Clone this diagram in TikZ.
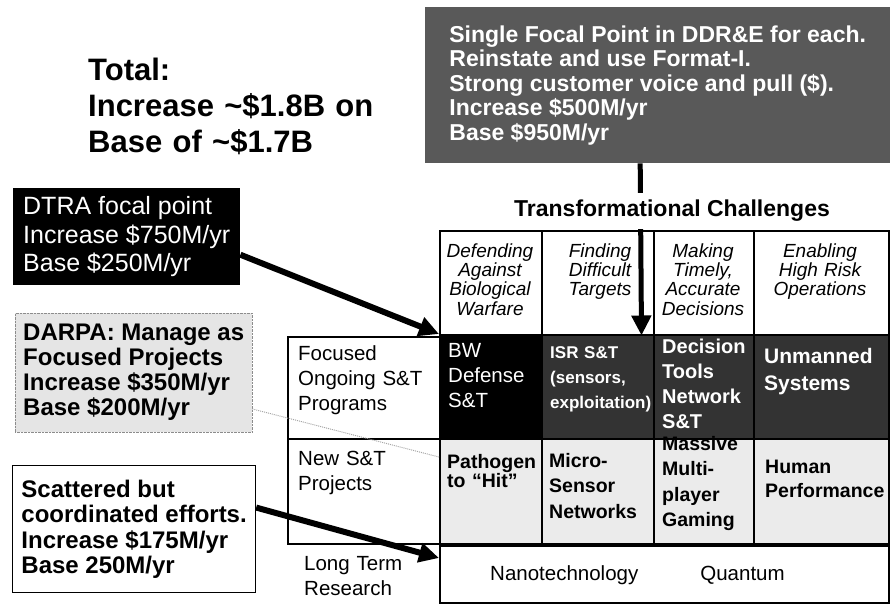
\documentclass[tikz,border=0pt]{standalone}
\usepackage{fontspec}
\setmainfont{Liberation Sans}
\usetikzlibrary{arrows.meta}

\begin{document}
\begin{tikzpicture}[x=1pt,y=-1pt,>={Triangle[length=20pt,width=19pt]},
    cell/.style={draw=black,line width=1.5pt,anchor=north west,inner sep=0pt},
    note/.style={anchor=north west,inner sep=0pt,align=left},
    txt/.style={anchor=base west,inner sep=0pt,text width=130pt,align=left},
    hdtxt/.style={anchor=base,inner sep=0pt,text width=100pt,align=center,
        font=\itshape\fontsize{19}{19.5}\selectfont},
    rowone/.style={txt,text=white,font=\bfseries\fontsize{20}{25}\selectfont},
    rowtwo/.style={txt,font=\bfseries\fontsize{19.5}{25.5}\selectfont},
    plain/.style={txt,font=\fontsize{20.5}{25}\selectfont}]
    \useasboundingbox (0,0) rectangle (895,607);

    \node[txt,text width=330pt,font=\bfseries\fontsize{31}{36}\selectfont] (total) at (88,81)
        {Total:\\Increase \textasciitilde\$1.8B on\\Base of \textasciitilde\$1.7B};

    % who pays
    \node[note,fill=black,text=white,minimum width=227pt,minimum height=97pt,
        font=\fontsize{25}{28.5}\selectfont] (dtra) at (13,188)
        {DTRA focal point\\Increase \$750M/yr\\Base \$250M/yr};
    \node[note,fill=black!10,draw=black!45,densely dotted,minimum width=237pt,minimum height=119pt,
        font=\bfseries\fontsize{24}{25}\selectfont] (darpa) at (15,313)
        {DARPA: Manage as\\Focused Projects\\Increase \$350M/yr\\Base \$200M/yr};
    \node[note,draw=black,line width=1.2pt,minimum width=243pt,minimum height=127pt,
        font=\bfseries\fontsize{24}{25.5}\selectfont] (scat) at (12,465)
        {Scattered but\\coordinated efforts.\\Increase \$175M/yr\\Base 250M/yr};
    \node[note,fill=black!65,text=white,minimum width=465pt,minimum height=156pt,
        font=\bfseries\fontsize{23}{24.5}\selectfont] (ddre) at (425,7)
        {Single Focal Point in DDR\&E for each.\\Reinstate and use Format-I.\\Strong customer voice and pull (\$).\\Increase \$500M/yr\\Base \$950M/yr};

    % header row
    \node[cell,minimum width=102pt,minimum height=104pt] (h1) at (439,230) {};
    \node[cell,minimum width=112pt,minimum height=104pt] (h2) at (541,230) {};
    \node[cell,minimum width=100pt,minimum height=104pt] (h3) at (653,230) {};
    \node[cell,minimum width=135pt,minimum height=104pt] (h4) at (753,230) {};
    \node[hdtxt] (h1t) at (490,257) {Defending\\Against\\Biological\\Warfare};
    \node[hdtxt] (h2t) at (600,257) {Finding\\Difficult\\Targets};
    \node[hdtxt] (h3t) at (703,257) {Making\\Timely,\\Accurate\\Decisions};
    \node[hdtxt] (h4t) at (820,257) {Enabling\\High Risk\\Operations};

    % focused ongoing programs
    \node[cell,fill=black,minimum width=102pt,minimum height=104pt] (bw) at (439,334) {};
    \node[cell,fill=black!80,minimum width=112pt,minimum height=104pt] (isr) at (541,334) {};
    \node[cell,fill=black!80,minimum width=100pt,minimum height=104pt] (dec) at (653,334) {};
    \node[cell,fill=black!80,minimum width=135pt,minimum height=104pt] (unm) at (753,334) {};
    \node[rowone,font=\fontsize{20.5}{25}\selectfont] (bwt) at (448,357) {BW\\Defense\\S\&T};
    \node[rowone,font=\bfseries\fontsize{17}{25}\selectfont] (isrt) at (550,358) {ISR S\&T\\(sensors,\\exploitation)};
    \node[rowone] (dect) at (662,353) {Decision\\Tools\\Network\\S\&T};
    \node[rowone,font=\bfseries\fontsize{21}{27}\selectfont] (unmt) at (764,363) {Unmanned\\Systems};

    % new projects
    \node[cell,fill=black!8,minimum width=102pt,minimum height=105pt] (pat) at (439,438) {};
    \node[cell,fill=black!8,minimum width=112pt,minimum height=105pt] (mic) at (541,438) {};
    \node[cell,fill=black!8,minimum width=100pt,minimum height=105pt] (mas) at (653,438) {};
    \node[cell,fill=black!8,minimum width=135pt,minimum height=105pt] (hum) at (753,438) {};
    \node[rowtwo,font=\bfseries\fontsize{19.5}{19.5}\selectfont] (patt) at (447,468) {Pathogen\\to “Hit”};
    \node[rowtwo] (mict) at (549,467) {Micro-\\Sensor\\Networks};
    \node[rowtwo] (mast) at (662,450) {Massive\\Multi-\\player\\Gaming};
    \node[rowtwo,font=\bfseries\fontsize{19.5}{24}\selectfont] (humt) at (765,473) {Human\\Performance};

    % long term research
    \node[cell,minimum width=449pt,minimum height=57pt] (ltr) at (439,545) {};
    \node[plain,text width=400pt] (ltrt) at (490,580) {Nanotechnology\hspace{62pt}Quantum};

    % row labels
    \node[cell,minimum width=152pt,minimum height=102pt] (focus) at (287,336) {};
    \node[cell,minimum width=152pt,minimum height=105pt] (newst) at (287,438) {};
    \node[plain] (focust) at (298,360) {Focused\\Ongoing S\&T\\Programs};
    \node[plain] (newstt) at (298,465) {New S\&T\\Projects};
    \node[plain] (lterm) at (304,570) {Long Term\\Research};

    \path[->,line width=5pt] ([xshift=-17.5pt]ddre.south) edge ([xshift=-13pt]h2.south east);
    \node[fill=white,inner xsep=4pt,inner ysep=7pt,font=\bfseries\fontsize{23}{27}\selectfont] (title) at (672,211)
        {Transformational Challenges};

    \path[->,line width=6pt] (dtra.-9) edge (bw.north west);
    \path[->,line width=6pt] (scat.10) edge ([yshift=-13pt]ltr.north west);
    \path[black!35,densely dotted,line width=1pt] (darpa.-17) edge ([yshift=-19pt]pat.north west);
\end{tikzpicture}
\end{document}
